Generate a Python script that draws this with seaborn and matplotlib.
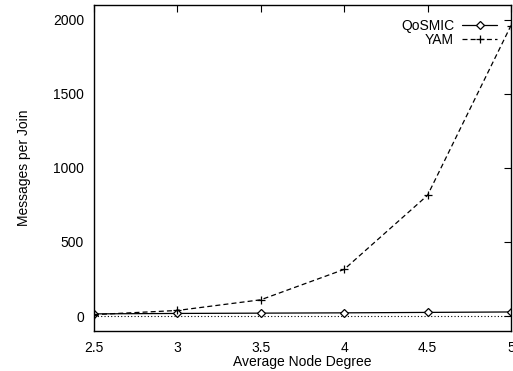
import matplotlib
matplotlib.use("Agg")
import matplotlib.pyplot as plt
import seaborn as sns

# 數據
degrees = [2.5, 3, 3.5, 4, 4.5, 5]
qosmic = [15, 18, 20, 22, 25, 28]
yam = [10, 38, 110, 315, 815, 1960]

sns.set_theme(style="white")
plt.rcParams['font.family'] = ['Liberation Sans', 'DejaVu Sans']
plt.rcParams['font.size'] = 10
plt.rcParams['text.color'] = 'black'
plt.rcParams['axes.labelcolor'] = 'black'

fig = plt.figure(figsize=(5.13, 3.71), dpi=100)
ax = fig.add_axes([0.183, 0.108, 0.813, 0.879])

# 零軸 (點線)
ax.axhline(0, color='black', linestyle=(0, (1, 2)), linewidth=0.8, zorder=1)

sns.lineplot(x=degrees, y=qosmic, color='black', linewidth=0.9,
             marker='D', markersize=4.5, markerfacecolor='white',
             markeredgecolor='black', markeredgewidth=0.9,
             label='QoSMIC', ax=ax)
sns.lineplot(x=degrees, y=yam, color='black', linewidth=0.9,
             linestyle=(0, (4, 2.5)), marker='+', markersize=6,
             markeredgecolor='black', markeredgewidth=0.9,
             label='YAM', ax=ax)

ax.set_xlim(2.5, 5)
ax.set_ylim(-100, 2100)
ax.set_xticks([2.5, 3, 3.5, 4, 4.5, 5])
ax.set_xticklabels(['2.5', '3', '3.5', '4', '4.5', '5'])
ax.set_yticks([0, 500, 1000, 1500, 2000])
ax.tick_params(direction='in', top=True, right=True, length=5, width=0.8,
               labelsize=10, colors='black', labelcolor='black', pad=7)
ax.set_xlabel('Average Node Degree', fontsize=10, labelpad=0, color='black')
ax.set_ylabel('Messages per Join', fontsize=10, labelpad=16, color='black')
for s in ax.spines.values():
    s.set_color('black')
    s.set_linewidth(1.0)

leg = ax.legend(loc='upper right', frameon=False, markerfirst=False,
                fontsize=10, handlelength=2.5, labelspacing=0.0,
                borderaxespad=0.6, handletextpad=0.6, labelcolor='black')
leg._legend_box.align = 'right'
for t in leg.get_texts():
    t.set_ha('right')

fig.savefig('out.png', dpi=100)
